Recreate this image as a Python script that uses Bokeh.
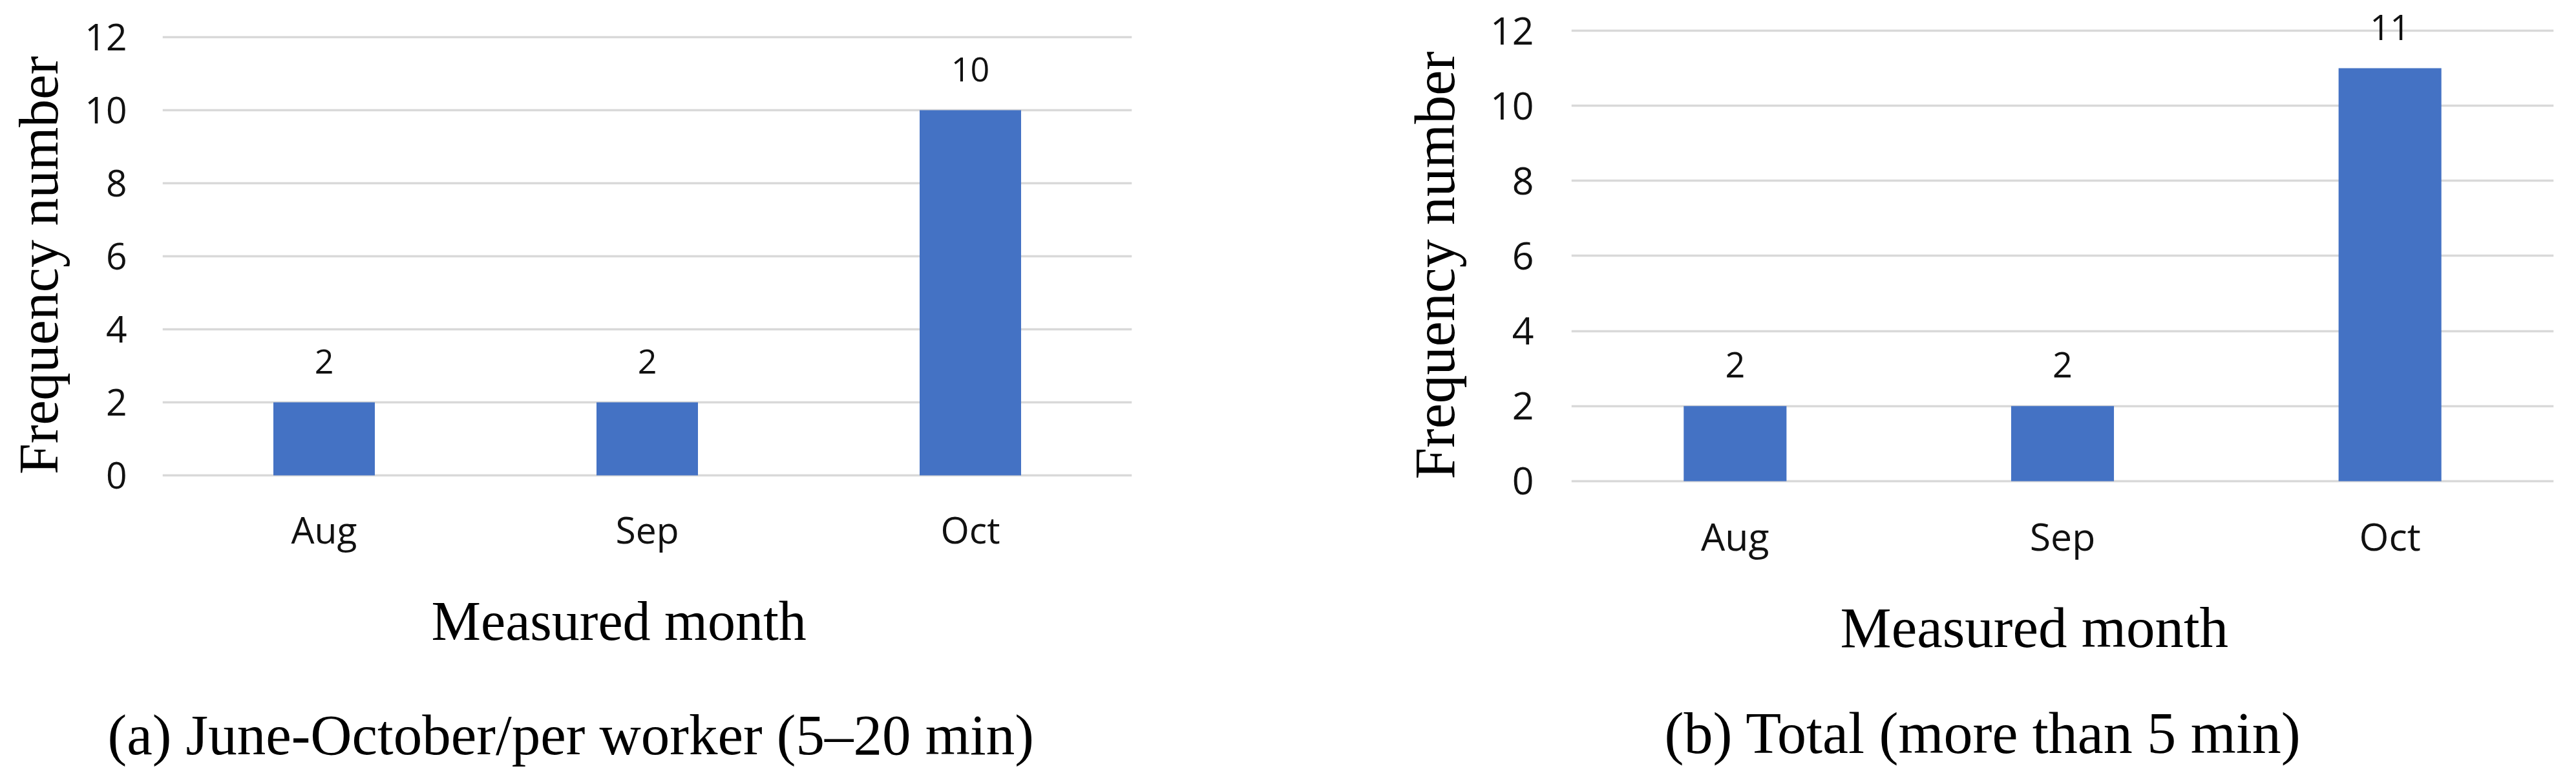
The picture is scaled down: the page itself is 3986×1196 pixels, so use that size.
from bokeh.plotting import figure
from bokeh.models import ColumnDataSource, Range1d, FixedTicker, LabelSet, Title
from bokeh.layouts import row
from bokeh.core.properties import value
from bokeh.embed import file_html
from bokeh.resources import INLINE

# ---------------- data ----------------
months = ["Aug", "Sep", "Oct"]
counts_a = [2, 2, 10]
counts_b = [2, 2, 11]
y_ticks = [0, 2, 4, 6, 8, 10, 12]
y_title = "Frequency number"
x_title = "Measured month"
caption_a = "(a) June-October/per worker (5\u201320 min)"
caption_b = "(b) Total (more than 5 min)"

BAR = "#4472C4"
GRID = "#d9d9d9"
SANS = "Open Sans"
SERIF = "Liberation Serif"
H = 1192
TOP = 20          # frame top (px from page top)
BOT = 800         # frame bottom


def below_title(p, text, offset, standoff, size):
    p.add_layout(Title(text=text, align="left", offset=offset,
                       vertical_align="top", standoff=standoff,
                       text_font=SERIF, text_font_style="normal",
                       text_font_size=size, text_color="black"), "below")


def make_panel(counts, caption, g):
    src = ColumnDataSource(dict(month=months, count=counts,
                                lab=[str(c) for c in counts]))
    p = figure(width=g["w"], height=H, x_range=months,
               y_range=Range1d(g["ylo"], g["yhi"]), output_backend="svg",
               toolbar_location=None, title=None,
               min_border_left=g["bl"], min_border_right=g["br"],
               min_border_top=TOP, min_border_bottom=H - BOT)
    p.outline_line_color = None
    p.background_fill_color = "white"
    p.border_fill_color = "white"

    p.vbar(x="month", top="count", width=0.314, source=src,
           fill_color=BAR, line_color=None)

    p.xgrid.grid_line_color = None
    p.ygrid.grid_line_color = GRID
    p.ygrid.grid_line_width = 3.5
    p.yaxis.ticker = FixedTicker(ticks=y_ticks)

    for ax in (p.xaxis[0], p.yaxis[0]):
        ax.axis_line_color = None
        ax.major_tick_line_color = None
        ax.minor_tick_line_color = None
        ax.major_tick_out = 0
        ax.major_tick_in = 0
        ax.minor_tick_out = 0
        ax.major_label_text_font = SANS
        ax.major_label_text_font_size = g["tick_fs"]
        ax.major_label_text_color = "#111111"
    p.xaxis.major_label_standoff = g["xstand"]
    p.yaxis.major_label_standoff = g["ystand"]

    p.yaxis.axis_label = y_title
    p.yaxis.axis_label_text_font = SERIF
    p.yaxis.axis_label_text_font_size = g["ytitle_fs"]
    p.yaxis.axis_label_text_font_style = "normal"
    p.yaxis.axis_label_text_color = "black"
    p.yaxis.axis_label_standoff = g["ylab_stand"]

    labels = LabelSet(x="month", y="count", text="lab", source=src,
                      y_offset=g["val_off"], text_align="center",
                      text_baseline="alphabetic", text_font=value(SANS),
                      text_font_size=g["val_fs"], text_color="#111111")
    p.add_layout(labels)

    below_title(p, x_title, g["mm_off"], g["mm_stand"], g["mm_fs"])
    below_title(p, " ", 0, g["sp_stand"], g["sp_fs"])          # spacer
    below_title(p, caption, g["cap_off"], 0, g["cap_fs"])
    return p


# left chart: 12 -> y 57, 0 -> y 735 (56.5 px / unit)
geo_a = dict(w=2000, bl=251, br=249,
             ylo=-(BOT - 735) / 56.5, yhi=12 + (57 - TOP) / 56.5,
             tick_fs="57px", val_fs="52px", val_off=45,
             xstand=1 - (BOT - 778), ystand=55, ytitle_fs="86px",
             ylab_stand=20,
             mm_off=416, mm_stand=105, mm_fs="86px",
             sp_stand=11, sp_fs="10px",
             cap_off=-85, cap_fs="89px")
# right chart: 12 -> y 47, 0 -> y 744 (58.08 px / unit)
geo_b = dict(w=1986, bl=431, br=35,
             ylo=-(BOT - 744) / 58.08, yhi=12 + (47 - TOP) / 58.08,
             tick_fs="59px", val_fs="54px", val_off=44,
             xstand=10 - (BOT - 778), ystand=58, ytitle_fs="88px",
             ylab_stand=34,
             mm_off=416, mm_stand=101, mm_fs="89px",
             sp_stand=8, sp_fs="2px",
             cap_off=144, cap_fs="90px")

p1 = make_panel(counts_a, caption_a, geo_a)
p2 = make_panel(counts_b, caption_b, geo_b)

layout = row(p1, p2)
open("out.html", "w").write(file_html(layout, INLINE))
